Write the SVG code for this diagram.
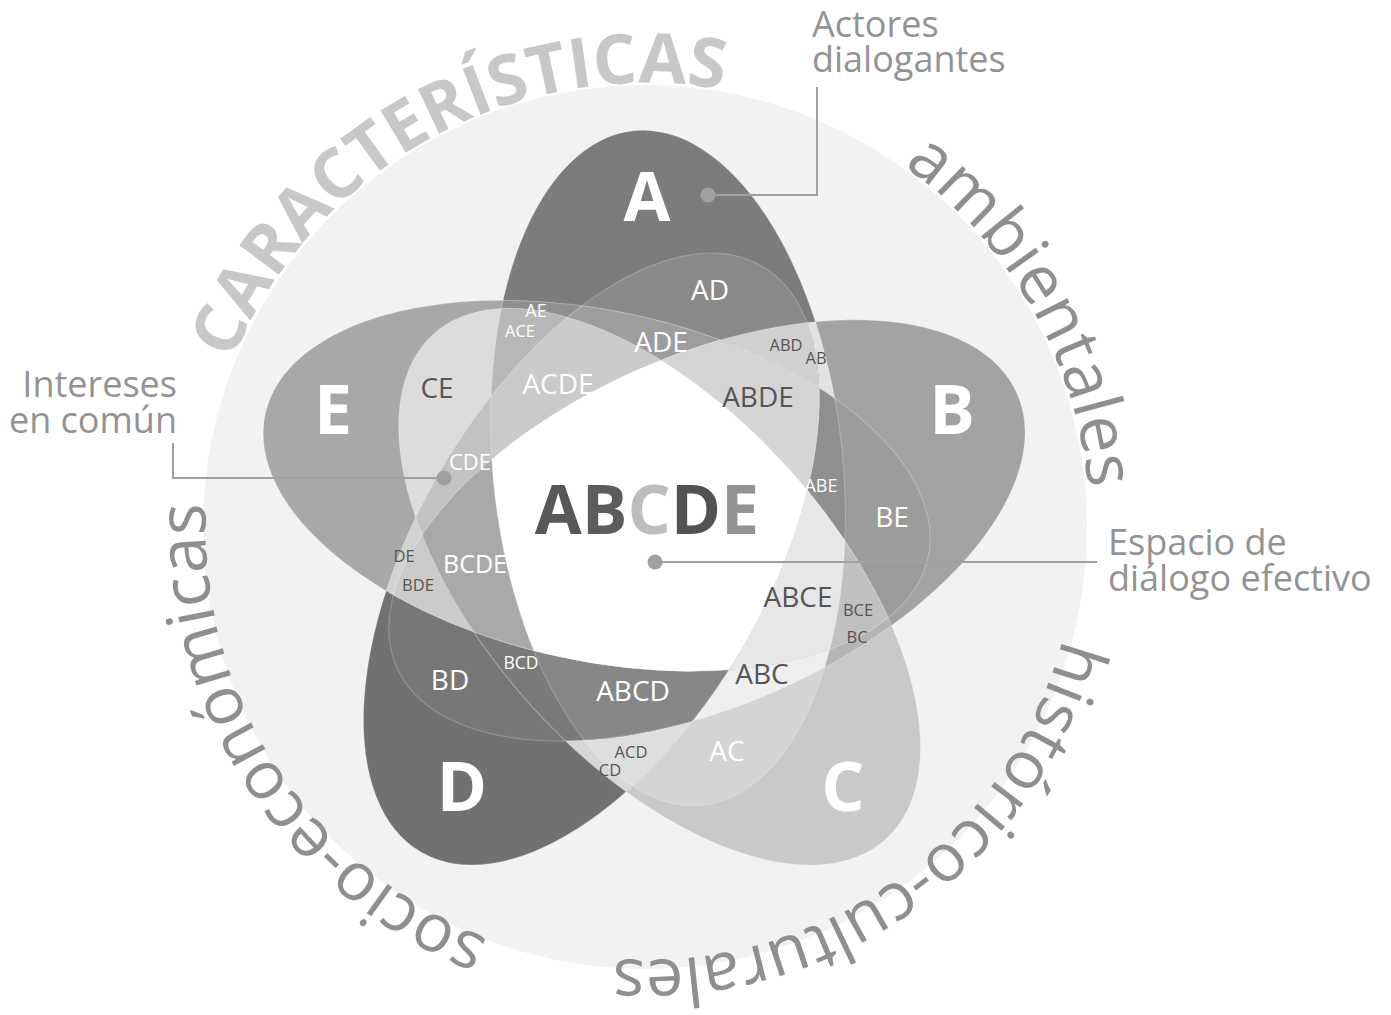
<svg xmlns="http://www.w3.org/2000/svg" width="1391" height="1015" viewBox="0 0 1391 1015">
<style>
text{font-family:"Open Sans","Liberation Sans",sans-serif}
.lbl{text-anchor:middle}
.big{font-size:68px;font-weight:700;fill:#fff}
.m{font-size:28px}
.s{font-size:16.5px}
.w{fill:#fff}
.d{fill:#555}
.call{font-size:36px;fill:#939393}
.arc{font-size:67px;fill:#8f8f8f}
.car{font-size:69px;font-weight:700;fill:#c8c8c8}
.line{fill:none;stroke:#a0a0a0;stroke-width:2}
.dot{fill:#a0a0a0}
.edge{fill:none;stroke:#fff;stroke-opacity:.22;stroke-width:1.2}
</style>
<defs>
<ellipse id="eA" cx="668" cy="468" rx="175" ry="339" transform="rotate(-5.8 668 468)"/>
<ellipse id="eB" cx="668" cy="468" rx="175" ry="339" transform="rotate(72 644.5 526) rotate(-5.8 668 468)"/>
<ellipse id="eC" cx="668" cy="468" rx="175" ry="339" transform="rotate(144 644.5 526) rotate(-5.8 668 468)"/>
<ellipse id="eD" cx="668" cy="468" rx="175" ry="339" transform="rotate(216 644.5 526) rotate(-5.8 668 468)"/>
<ellipse id="eE" cx="668" cy="468" rx="175" ry="339" transform="rotate(288 644.5 526) rotate(-5.8 668 468)"/>
<clipPath id="cA"><use href="#eA"/></clipPath>
<clipPath id="cB"><use href="#eB"/></clipPath>
<clipPath id="cC"><use href="#eC"/></clipPath>
<clipPath id="cD"><use href="#eD"/></clipPath>
<clipPath id="cE"><use href="#eE"/></clipPath>
<path id="pCar" d="M252.8,744.5 A448,448 0 0 1 1037.2,311.5"/>
<path id="pAmb" d="M423.8,141.8 A445,445 0 0 1 866.2,914.2"/>
<path id="pHis" d="M996.7,277.1 A432,432 0 0 1 293.3,778.9"/>
<path id="pSoc" d="M885.7,898.7 A442,442 0 0 1 404.3,157.3"/>
</defs>

<circle id="background" cx="645" cy="527" r="442" fill="#f2f2f2"/>

<g id="regions">
<use href="#eA" fill="#7c7c7c"/>
<use href="#eB" fill="#a3a3a3"/>
<use href="#eC" fill="#c9c9c9"/>
<use href="#eD" fill="#717171"/>
<use href="#eE" fill="#a8a8a8"/>
<g clip-path="url(#cA)"><use href="#eB" fill="#e2e2e2"/></g>
<g clip-path="url(#cA)"><use href="#eC" fill="#d4d4d4"/></g>
<g clip-path="url(#cA)"><use href="#eD" fill="#8a8a8a"/></g>
<g clip-path="url(#cA)"><use href="#eE" fill="#8f8f8f"/></g>
<g clip-path="url(#cB)"><use href="#eC" fill="#b5b5b5"/></g>
<g clip-path="url(#cB)"><use href="#eD" fill="#777777"/></g>
<g clip-path="url(#cB)"><use href="#eE" fill="#9c9c9c"/></g>
<g clip-path="url(#cC)"><use href="#eD" fill="#d7d7d7"/></g>
<g clip-path="url(#cC)"><use href="#eE" fill="#dcdcdc"/></g>
<g clip-path="url(#cD)"><use href="#eE" fill="#d2d2d2"/></g>
<g clip-path="url(#cA)"><g clip-path="url(#cB)"><use href="#eC" fill="#efefef"/></g></g>
<g clip-path="url(#cA)"><g clip-path="url(#cB)"><use href="#eD" fill="#d0d0d0"/></g></g>
<g clip-path="url(#cA)"><g clip-path="url(#cB)"><use href="#eE" fill="#8f8f8f"/></g></g>
<g clip-path="url(#cA)"><g clip-path="url(#cC)"><use href="#eD" fill="#dedede"/></g></g>
<g clip-path="url(#cA)"><g clip-path="url(#cC)"><use href="#eE" fill="#b8b8b8"/></g></g>
<g clip-path="url(#cA)"><g clip-path="url(#cD)"><use href="#eE" fill="#9d9d9d"/></g></g>
<g clip-path="url(#cB)"><g clip-path="url(#cC)"><use href="#eD" fill="#7a7a7a"/></g></g>
<g clip-path="url(#cB)"><g clip-path="url(#cC)"><use href="#eE" fill="#c0c0c0"/></g></g>
<g clip-path="url(#cB)"><g clip-path="url(#cD)"><use href="#eE" fill="#cbcbcb"/></g></g>
<g clip-path="url(#cC)"><g clip-path="url(#cD)"><use href="#eE" fill="#c2c2c2"/></g></g>
<g clip-path="url(#cA)"><g clip-path="url(#cB)"><g clip-path="url(#cC)"><use href="#eD" fill="#878787"/></g></g></g>
<g clip-path="url(#cA)"><g clip-path="url(#cB)"><g clip-path="url(#cC)"><use href="#eE" fill="#e7e7e7"/></g></g></g>
<g clip-path="url(#cA)"><g clip-path="url(#cB)"><g clip-path="url(#cD)"><use href="#eE" fill="#d5d5d5"/></g></g></g>
<g clip-path="url(#cA)"><g clip-path="url(#cC)"><g clip-path="url(#cD)"><use href="#eE" fill="#cacaca"/></g></g></g>
<g clip-path="url(#cB)"><g clip-path="url(#cC)"><g clip-path="url(#cD)"><use href="#eE" fill="#a9a9a9"/></g></g></g>
<g clip-path="url(#cA)"><g clip-path="url(#cB)"><g clip-path="url(#cC)"><g clip-path="url(#cD)"><use href="#eE" fill="#ffffff"/></g></g></g></g>
<use href="#eA" class="edge"/>
<use href="#eB" class="edge"/>
<use href="#eC" class="edge"/>
<use href="#eD" class="edge"/>
<use href="#eE" class="edge"/>
</g>

<g id="set-labels" class="lbl">
<g id="set-A"><text class="big" x="647" y="221">A</text></g>
<g id="set-B"><text class="big" x="952" y="434">B</text></g>
<g id="set-C"><text class="big" x="843" y="811">C</text></g>
<g id="set-D"><text class="big" x="462" y="811">D</text></g>
<g id="set-E"><text class="big" x="333" y="434">E</text></g>
</g>

<g id="region-labels" class="lbl">
<text class="m w" x="710" y="300">AD</text>
<text class="s w" x="536" y="317" style="font-size:18px">AE</text>
<text class="s w" x="520" y="337">ACE</text>
<text class="m w" x="661" y="352">ADE</text>
<text class="s d" x="786" y="351">ABD</text>
<text class="s d" x="816" y="364">AB</text>
<text class="m d" x="437" y="398">CE</text>
<text class="m w" x="558" y="394">ACDE</text>
<text class="m d" x="758" y="407">ABDE</text>
<text class="w" x="470" y="470" style="font-size:22px">CDE</text>
<text class="w" x="821" y="492" style="font-size:18px">ABE</text>
<text class="m w" x="892" y="527">BE</text>
<text class="s d" x="404" y="562">DE</text>
<text class="s d" x="418" y="591">BDE</text>
<text class="w" x="475" y="573" style="font-size:25px">BCDE</text>
<text class="m d" x="798" y="607">ABCE</text>
<text class="s d" x="858" y="616">BCE</text>
<text class="s d" x="857" y="643">BC</text>
<text class="m w" x="450" y="690">BD</text>
<text class="s w" x="521" y="669" style="font-size:17.5px">BCD</text>
<text class="m w" x="633" y="701">ABCD</text>
<text class="m d" x="762" y="684">ABC</text>
<text class="s d" x="631" y="758">ACD</text>
<text class="s d" x="610" y="776">CD</text>
<text class="m w" x="727" y="761">AC</text>
<text x="647" y="534" style="font-size:68px;font-weight:700"><tspan fill="#585858">A</tspan><tspan fill="#5c5c5c">B</tspan><tspan fill="#bdbdbd">C</tspan><tspan fill="#525252">D</tspan><tspan fill="#939393">E</tspan></text>
</g>

<g id="connectors">
<polyline class="line" points="817,87 817,195 708,195"/>
<polyline class="line" points="173,443 173,478 444,478"/>
<line class="line" x1="655" y1="562" x2="1097" y2="562"/>
<circle class="dot" cx="708" cy="195" r="7.5"/>
<circle class="dot" cx="444" cy="478" r="7.5"/>
<circle class="dot" cx="655" cy="562" r="7.5"/>
</g>

<g id="callout-actores">
<text class="call" x="812" y="37">Actores</text>
<text class="call" x="812" y="72">dialogantes</text>
</g>
<g id="callout-intereses">
<text class="call" x="177" y="397" text-anchor="end">Intereses</text>
<text class="call" x="177" y="433" text-anchor="end">en común</text>
</g>
<g id="callout-espacio">
<text class="call" x="1108" y="555">Espacio de</text>
<text class="call" x="1108" y="591">diálogo efectivo</text>
</g>

<g id="ring-text">
<text class="car"><textPath href="#pCar" startOffset="50%" text-anchor="middle">CARACTERÍSTICAS</textPath></text>
<text class="arc"><textPath href="#pAmb" startOffset="50%" text-anchor="middle">ambientales</textPath></text>
<text class="arc"><textPath href="#pHis" startOffset="50%" text-anchor="middle">histórico-culturales</textPath></text>
<text class="arc"><textPath href="#pSoc" startOffset="50%" text-anchor="middle">socio-económicas</textPath></text>
</g>
</svg>
